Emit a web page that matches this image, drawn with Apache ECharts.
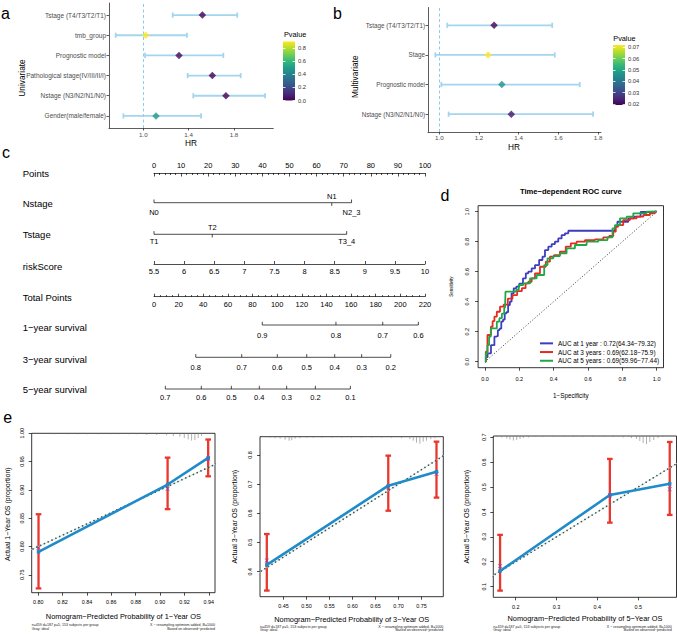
<!DOCTYPE html>
<html><head><meta charset="utf-8">
<script src="https://cdn.jsdelivr.net/npm/echarts@6/dist/echarts.min.js"></script>
<style>html,body{margin:0;padding:0;background:#fff}#c{width:677px;height:634px}</style>
</head><body><div id="c"></div>
<script>
// ================= DATA =================
// Panel a – univariate Cox (top to bottom)
const uniVars  = ['Tstage (T4/T3/T2/T1)','tmb_group','Prognostic model','Pathological stage(IV/III/II/I)','Nstage (N3/N2/N1/N0)','Gender(male/female)'];
const uniHR    = [1.521, 1.021, 1.315, 1.609, 1.729, 1.112];
const uniLow   = [1.259, 0.756, 1.015, 1.391, 1.441, 0.824];
const uniHigh  = [1.829, 1.385, 1.706, 1.859, 2.074, 1.509];
const uniP     = [0.001, 0.895, 0.02, 0.0003, 0.0002, 0.48];
const uniTicks = [1.0, 1.4, 1.8];
const uniPTicks = [0, 0.2, 0.4, 0.6, 0.8];
// Panel b – multivariate Cox (top to bottom)
const multiVars = ['Tstage (T4/T3/T2/T1)','Stage','Prognostic model','Nstage (N3/N2/N1/N0)'];
const multiHR   = [1.276, 1.246, 1.315, 1.363];
const multiLow  = [1.040, 0.980, 1.010, 1.047];
const multiHigh = [1.569, 1.582, 1.708, 1.775];
const multiP    = [0.0191, 0.072, 0.046, 0.022];
const multiTicks = [1.0, 1.2, 1.4, 1.6, 1.8];
const multiPTicks = [0.02, 0.03, 0.04, 0.05, 0.06, 0.07];
// Panel c – nomogram
const nstageLevels = ['N0','N1','N2_3'];
const nstagePoints = [0, 65.6, 72.9];
const tstageLevels = ['T1','T2','T3_4'];
const tstagePoints = [0, 21.5, 71.1];
const surv1Labels = ['0.9','0.8','0.7','0.6'];
const surv1Total  = [87.9, 147.7, 185.7, 214.6];
const surv3Labels = ['0.8','0.7','0.6','0.5','0.4','0.3','0.2'];
const surv3Total  = [33.9, 71.2, 100.1, 124.0, 146.7, 168.6, 192.2];
const surv5Labels = ['0.7','0.6','0.5','0.4','0.3','0.2','0.1'];
const surv5Total  = [9.2, 38.4, 62.8, 85.5, 107.7, 131.0, 159.4];
// Panel d – time-dependent ROC
const rocNames = ['AUC at 1 year : 0.72(64.34\u221279.32)','AUC at 3 years : 0.69(62.18\u221275.9)','AUC at 5 years : 0.69(59.96\u221277.44)'];
const roc1X = [0,0.01,0.02,0.03,0.04,0.05,0.06,0.07,0.08,0.09,0.10,0.11,0.12,0.13,0.14,0.15,0.16,0.175,0.19,0.21,0.233,0.243,0.262,0.282,0.301,0.33,0.34,0.359,0.379,0.398,0.417,0.437,0.456,0.476,0.495,0.757,0.757,0.786,0.835,0.835,0.90,0.913,1];
const roc1Y = [0,0.03,0.056,0.056,0.11,0.11,0.167,0.17,0.211,0.22,0.267,0.28,0.322,0.33,0.378,0.40,0.456,0.489,0.50,0.52,0.556,0.589,0.60,0.622,0.644,0.678,0.70,0.744,0.767,0.784,0.80,0.822,0.844,0.856,0.873,0.873,0.90,0.933,0.933,0.956,0.967,0.998,1];
const roc3X = [0,0.01,0.019,0.03,0.039,0.05,0.06,0.078,0.097,0.12,0.146,0.175,0.2,0.23,0.243,0.262,0.282,0.301,0.34,0.369,0.388,0.417,0.456,0.485,0.515,0.553,0.612,0.67,0.709,0.738,0.757,0.767,0.786,0.825,0.864,0.903,0.942,0.98,1];
const roc3Y = [0,0.067,0.178,0.178,0.233,0.27,0.30,0.333,0.367,0.38,0.42,0.444,0.47,0.49,0.522,0.533,0.556,0.589,0.633,0.667,0.70,0.711,0.733,0.767,0.789,0.80,0.811,0.816,0.829,0.838,0.867,0.90,0.911,0.944,0.956,0.967,0.978,0.989,1];
const roc5X = [0,0.01,0.019,0.029,0.039,0.06,0.078,0.09,0.107,0.117,0.122,0.175,0.19,0.204,0.243,0.282,0.32,0.34,0.35,0.379,0.417,0.456,0.495,0.553,0.631,0.689,0.738,0.748,0.767,0.806,0.845,0.883,1];
const roc5Y = [0,0.056,0.11,0.167,0.222,0.222,0.267,0.29,0.32,0.36,0.467,0.467,0.48,0.511,0.522,0.556,0.578,0.578,0.644,0.689,0.704,0.722,0.756,0.778,0.80,0.811,0.829,0.889,0.911,0.956,0.967,0.989,1];
const rocTicks = [0, 0.2, 0.4, 0.6, 0.8, 1.0];
// Panel e – calibration curves
const cal1Pred = [0.8003, 0.9062, 0.9395], cal1Obs = [0.7905, 0.9095, 0.9565], cal1Low = [0.726, 0.866, 0.924], cal1High = [0.857, 0.957, 0.989], cal1Corr = [0.798, 0.902, 0.955];
const cal3Pred = [0.4138, 0.6778, 0.7826], cal3Obs = [0.4229, 0.695, 0.743], cal3Low = [0.335, 0.609, 0.654], cal3High = [0.529, 0.798, 0.846], cal3Corr = [0.438, 0.689, 0.735];
const cal5Pred = [0.1617, 0.4306, 0.5773], cal5Obs = [0.163, 0.468, 0.513], cal5Low = [0.084, 0.357, 0.388], cal5High = [0.308, 0.613, 0.681], cal5Corr = [0.183, 0.466, 0.491];
const cal1XTicks = [0.80,0.82,0.84,0.86,0.88,0.90,0.92,0.94], cal1YTicks = [0.75,0.80,0.85,0.90,0.95,1.00];
const cal3XTicks = [0.45,0.50,0.55,0.60,0.65,0.70,0.75], cal3YTicks = [0.4,0.5,0.6,0.7,0.8];
const cal5XTicks = [0.2,0.3,0.4,0.5], cal5YTicks = [0.1,0.2,0.3,0.4,0.5,0.6,0.7];
const rug1X = [0.8128,0.8237,0.8324,0.8406,0.8496,0.8591,0.8659,0.8741,0.8809,0.8891,0.8973,0.9054,0.9109,0.9163,0.9199,0.9231,0.9259,0.9286,0.9313,0.934];
const rug1N = [1,1,1,1,1,1,1,1,1,1.7,1.7,2,2.7,3.3,4.7,6,7.3,6.7,4.7,2.7];
const rug3X = [0.4211,0.4319,0.4428,0.4536,0.4623,0.4681,0.4753,0.4862,0.5006,0.5151,0.5332,0.5548,0.5765,0.5982,0.6199,0.6416,0.6633,0.6850,0.7067,0.7248,0.7320,0.7392,0.7465,0.7537,0.7609,0.7703,0.7790];
const rug3N = [1,1.5,2,3,4,3.5,2,1.5,1,1,1,1,1,1,1,1,1,1,1.5,2.5,4,6,7,5,4,2.5,1.5];
const rug5X = [0.1535,0.1658,0.1780,0.1861,0.1943,0.2024,0.2106,0.2187,0.2310,0.2473,0.2676,0.2921,0.3165,0.3410,0.3654,0.3899,0.4143,0.4388,0.4632,0.4836,0.4958,0.5040,0.5122,0.5203,0.5285,0.5382,0.5488,0.5611];
const rug5N = [1,1.5,2.5,3.5,4.5,4,3,2,1.5,1,1,1,1,1,1,1,1,1,1.5,2,3,5,7,8,6,4,2,1];

// ================= BUILD =================
const FONT = '"Liberation Sans", Arial, Helvetica, sans-serif';
const viridis = ['#440154','#482878','#3e4989','#31688e','#26828e','#1f9e89','#35b779','#6ece58','#b5de2b','#fde725'];
const grids = [], xAxes = [], yAxes = [], series = [], gfx = [], vmaps = [];
function addGrid(g, xa, ya) {
  const gi = grids.length; grids.push(g);
  const xi = xAxes.length; xAxes.push(Object.assign({gridIndex: gi}, xa));
  const yi = yAxes.length; yAxes.push(Object.assign({gridIndex: gi}, ya));
  return {g: gi, x: xi, y: yi};
}
const hidden = (min, max) => ({type: 'value', show: false, min, max, splitLine: {show: false}});
function valAxis(o) {
  return {
    type: 'value', min: o.min, max: o.max, position: o.position,
    axisLine: {show: o.line !== false, onZero: false, lineStyle: {color: o.lineColor || '#000', width: o.lw || 0.8}},
    axisTick: {show: true, inside: !!o.inside, length: o.tickLen || 3, customValues: o.ticks,
               lineStyle: {color: o.tickColor || o.lineColor || '#000', width: o.lw || 0.8}},
    axisLabel: {show: o.labels !== false, customValues: o.ticks, formatter: o.fmt, fontSize: o.fs || 6, color: o.labelColor || '#000',
                margin: o.margin == null ? 4 : o.margin, rotate: o.rotate || 0, fontFamily: FONT, lineHeight: o.fs || 6},
    splitLine: {show: false}, z: o.z
  };
}
function txt(x, y, text, size, o = {}) {
  return {type: 'text', x, y, rotation: o.rot || 0, z: 100, silent: true,
    style: {text, fontSize: size, fontFamily: FONT, fill: o.color || '#000', align: o.align || 'center',
            verticalAlign: 'middle', fontWeight: o.bold ? 'bold' : 'normal'}};
}
function hErrSeries(ax, data, color, lw, cap) {
  series.push({type: 'custom', xAxisIndex: ax.x, yAxisIndex: ax.y, silent: true, data,
    renderItem: (p, api) => {
      const y = api.value(2), a = api.coord([api.value(0), y]), b = api.coord([api.value(1), y]);
      const st = {stroke: color, lineWidth: lw};
      return {type: 'group', children: [
        {type: 'line', shape: {x1: a[0], y1: a[1], x2: b[0], y2: b[1]}, style: st},
        {type: 'line', shape: {x1: a[0], y1: a[1] - cap, x2: a[0], y2: a[1] + cap}, style: st},
        {type: 'line', shape: {x1: b[0], y1: b[1] - cap, x2: b[0], y2: b[1] + cap}, style: st}]};
    }});
}
function vErrSeries(ax, data, color, lw, cap) {
  series.push({type: 'custom', xAxisIndex: ax.x, yAxisIndex: ax.y, silent: true, data, z: 3,
    renderItem: (p, api) => {
      const x = api.value(0), a = api.coord([x, api.value(1)]), b = api.coord([x, api.value(2)]);
      const st = {stroke: color, lineWidth: lw};
      return {type: 'group', children: [
        {type: 'line', shape: {x1: a[0], y1: a[1], x2: b[0], y2: b[1]}, style: st},
        {type: 'line', shape: {x1: a[0] - cap, y1: a[1], x2: a[0] + cap, y2: a[1]}, style: st},
        {type: 'line', shape: {x1: b[0] - cap, y1: b[1], x2: b[0] + cap, y2: b[1]}, style: st}]};
    }});
}

// ---------- Forest plots ----------
function forest(box, vars, hr, lo, hi, pv, xmin, xmax, ticks, fs, xMargin, pmin, pmax, cbBox, pticks, pfmt) {
  const n = vars.length;
  const ax = addGrid(box,
    valAxis({min: xmin, max: xmax, ticks, fmt: v => v.toFixed(1), fs: 6.2, labelColor: '#4d4d4d', lineColor: '#333', tickLen: 2.5, margin: xMargin}),
    valAxis({min: 0.4, max: n + 0.6, ticks: vars.map((_, i) => i + 1), fmt: v => vars[n - Math.round(v)], fs, labelColor: '#4d4d4d', lineColor: '#333', tickLen: 2.5, margin: 3}));
  hErrSeries(ax, lo.map((l, i) => [l, hi[i], n - i]), '#a4d5ef', 1.8, 2.6);
  const si = series.length;
  series.push({type: 'scatter', xAxisIndex: ax.x, yAxisIndex: ax.y, symbol: 'diamond', symbolSize: 7.5, silent: true, z: 5,
    data: hr.map((h, i) => [h, n - i, pv[i]]),
    markLine: {silent: true, symbol: 'none', label: {show: false}, data: [{xAxis: 1}],
      lineStyle: {color: '#8fcbea', type: [3, 2.5], width: 1}}});
  vmaps.push({type: 'continuous', show: false, seriesIndex: si, dimension: 2, min: pmin, max: pmax, inRange: {color: viridis}});
  // colour bar
  const cb = addGrid(cbBox, hidden(0, 1),
    valAxis({min: pmin, max: pmax, position: 'right', line: false, inside: true, tickLen: 2.5, tickColor: '#fff', lineColor: '#fff', ticks: pticks, fmt: pfmt, fs: 5.8, labelColor: '#333', margin: 3, z: 10}));
  yAxes.push(Object.assign({gridIndex: cb.g}, valAxis({min: pmin, max: pmax, position: 'left', line: false, inside: true, tickLen: 2.5, tickColor: '#fff', lineColor: '#fff', ticks: pticks, labels: false, z: 10})));
  series.push({type: 'custom', xAxisIndex: cb.x, yAxisIndex: cb.y, silent: true, data: [[0]],
    renderItem: (p, api) => {
      const t = api.coord([0, pmax]), b = api.coord([1, pmin]);
      return {type: 'rect', shape: {x: t[0], y: t[1], width: b[0] - t[0], height: b[1] - t[1]},
        style: {fill: {type: 'linear', x: 0, y: 0, x2: 0, y2: 1, colorStops: viridis.slice().reverse().map((c, i) => ({offset: i / (viridis.length - 1), color: c}))}}};
    }});
}
forest({left: 109, top: 3, width: 164.3, height: 125}, uniVars, uniHR, uniLow, uniHigh, uniP, 0.697, 2.147, uniTicks, 6.5, 3.2,
       0, 0.895, {left: 283, top: 41.5, width: 12, height: 59}, uniPTicks, v => v.toFixed(1));
forest({left: 428, top: 7.5, width: 173, height: 124.5}, multiVars, multiHR, multiLow, multiHigh, multiP, 0.943, 1.815, multiTicks, 6.3, 2.2,
       0.0191, 0.0720, {left: 613, top: 45, width: 12, height: 60}, multiPTicks, v => v.toFixed(2));

// ---------- Nomogram ----------
const NL = 154, NW = 271;
addGrid({left: NL, top: 173, width: NW, height: 1},
  Object.assign(valAxis({min: 0, max: 100, position: 'top', inside: true, tickLen: 3.5, fs: 7.5, margin: 4, lw: 0.7}),
    {interval: 10, minorTick: {show: true, splitNumber: 5, length: 2, lineStyle: {color: '#000', width: 0.7}}, minorSplitLine: {show: false}}),
  hidden(0, 1));
addGrid({left: NL, top: 263, width: NW, height: 1},
  Object.assign(valAxis({min: 5.5, max: 10, position: 'bottom', inside: true, tickLen: 3, fs: 7.5, margin: 4, lw: 0.7}), {interval: 0.5}),
  hidden(0, 1));
addGrid({left: NL, top: 295.7, width: NW, height: 1},
  Object.assign(valAxis({min: 0, max: 220, position: 'bottom', inside: true, tickLen: 3, fs: 7.5, margin: 4, lw: 0.7}),
    {interval: 20, minorTick: {show: true, splitNumber: 4, length: 1.6, lineStyle: {color: '#000', width: 0.7}}, minorSplitLine: {show: false}}),
  hidden(0, 1));
function nomoRow(lineY, axMax, vals, labels, tickDir, labOff) {
  const ax = addGrid({left: NL, top: lineY - 10, width: NW, height: 20}, hidden(0, axMax), hidden(-1, 1));
  series.push({type: 'line', xAxisIndex: ax.x, yAxisIndex: ax.y, silent: true, symbol: 'none',
    data: [[Math.min(...vals), 0], [Math.max(...vals), 0]], lineStyle: {color: '#000', width: 0.7}});
  series.push({type: 'custom', xAxisIndex: ax.x, yAxisIndex: ax.y, silent: true, data: vals.map(v => [v, 0]),
    renderItem: (p, api) => {
      const c = api.coord([api.value(0), 0]), i = p.dataIndex;
      return {type: 'group', children: [
        {type: 'line', shape: {x1: c[0], y1: c[1], x2: c[0], y2: c[1] + tickDir[i] * 3.2}, style: {stroke: '#000', lineWidth: 0.7}},
        {type: 'text', x: c[0], y: c[1] + labOff[i], style: {text: labels[i], fontSize: 7.5, fontFamily: FONT, fill: '#000', align: 'center', verticalAlign: 'middle'}}]};
    }});
}
nomoRow(202.7, 100, nstagePoints, nstageLevels, [-1, 1, -1], [10, -6, 10]);
nomoRow(234.3, 100, tstagePoints, tstageLevels, [-1, 1, -1], [7.4, -7, 7.4]);
nomoRow(325, 220, surv1Total, surv1Labels, surv1Total.map(() => -1), surv1Total.map(() => 10));
nomoRow(357.3, 220, surv3Total, surv3Labels, surv3Total.map(() => -1), surv3Total.map(() => 10));
nomoRow(389, 220, surv5Total, surv5Labels, surv5Total.map(() => -1), surv5Total.map(() => 8.3));

// ---------- ROC ----------
const roc = addGrid({left: 478.1, top: 205.7, width: 185.4, height: 162, show: true, borderColor: '#000', borderWidth: 0.8},
  valAxis({min: -0.04, max: 1.04, line: false, ticks: rocTicks, fmt: v => v.toFixed(1), fs: 5.5, margin: 8.5, tickLen: 3, lw: 0.7}),
  valAxis({min: -0.04, max: 1.04, line: false, ticks: rocTicks, fmt: v => v.toFixed(1), fs: 5.5, margin: 8.5, tickLen: 3, lw: 0.7, rotate: 90}));
series.push({type: 'line', xAxisIndex: roc.x, yAxisIndex: roc.y, silent: true, symbol: 'none', data: [[0, 0], [1, 1]],
  lineStyle: {color: '#000', width: 0.8, type: [1, 2]}});
[[roc1X, roc1Y, '#3d3dc0'], [roc3X, roc3Y, '#e8291f'], [roc5X, roc5Y, '#1fa846']].forEach((r, k) => {
  series.push({type: 'line', name: rocNames[k], xAxisIndex: roc.x, yAxisIndex: roc.y, silent: true, symbol: 'none', step: 'middle',
    data: r[0].map((x, i) => [x, r[1][i]]), color: r[2], lineStyle: {color: r[2], width: 1.8}});
});

// ---------- Calibration ----------
const XMARK = 'path://M0,1 L1,0 L5,4 L9,0 L10,1 L6,5 L10,9 L9,10 L5,6 L1,10 L0,9 L4,5 Z';
function calPanel(box, xr, yr, xt, yt, xf, yf, pred, obs, lo, hi, corr, rx, rn) {
  const ax = addGrid(Object.assign({show: true, borderColor: '#000', borderWidth: 0.8}, box),
    valAxis({min: xr[0], max: xr[1], line: false, ticks: xt, fmt: xf, fs: 5.4, margin: 7, tickLen: 3, lw: 0.7}),
    valAxis({min: yr[0], max: yr[1], line: false, ticks: yt, fmt: yf, fs: 5.4, margin: 7, tickLen: 3, lw: 0.7, rotate: 90}));
  series.push({type: 'line', xAxisIndex: ax.x, yAxisIndex: ax.y, silent: true, symbol: 'none', clip: true, data: [[0, 0], [1, 1]],
    lineStyle: {color: '#d6d6d6', width: 0.7}});
  series.push({type: 'line', xAxisIndex: ax.x, yAxisIndex: ax.y, silent: true, symbol: 'none', clip: true, data: [[0, 0], [1, 1]],
    lineStyle: {color: '#2f5f55', width: 1.7, type: [0.01, 4.2], cap: 'round'}});
  series.push({type: 'custom', xAxisIndex: ax.x, yAxisIndex: ax.y, silent: true, data: rx.map((x, i) => [x, rn[i]]),
    renderItem: (p, api) => {
      const c = api.coord([api.value(0), yr[1]]);
      return {type: 'line', shape: {x1: c[0], y1: c[1], x2: c[0], y2: c[1] + api.value(1)}, style: {stroke: '#7a7a7a', lineWidth: 0.6}};
    }});
  vErrSeries(ax, pred.map((x, i) => [x, lo[i], hi[i]]), '#e8372c', 2.3, 2.8);
  series.push({type: 'line', xAxisIndex: ax.x, yAxisIndex: ax.y, silent: true, symbol: 'rect', symbolSize: 3.5, z: 4,
    data: pred.map((x, i) => [x, obs[i]]), itemStyle: {color: '#1f8bc9'}, lineStyle: {color: '#1f8bc9', width: 2.6}});
  series.push({type: 'scatter', xAxisIndex: ax.x, yAxisIndex: ax.y, silent: true, symbol: XMARK, symbolSize: 4.5, z: 5,
    data: pred.map((x, i) => [x, corr[i]]), itemStyle: {color: '#6f49c4'}});
}
const f2 = v => v.toFixed(2), f1 = v => v.toFixed(1);
calPanel({left: 31.7, top: 433.3, width: 183.3, height: 159.4}, [0.7947, 0.9451], [0.7184, 1.0], cal1XTicks, cal1YTicks, f2, f2,
  cal1Pred, cal1Obs, cal1Low, cal1High, cal1Corr, rug1X, rug1N);
calPanel({left: 260, top: 436.7, width: 183.3, height: 160}, [0.399, 0.7974], [0.314, 0.863], cal3XTicks, cal3YTicks, f2, f1,
  cal3Pred, cal3Obs, cal3Low, cal3High, cal3Corr, rug3X, rug3N);
calPanel({left: 493.3, top: 436, width: 183.2, height: 161.3}, [0.1451, 0.5939], [0.0572, 0.705], cal5XTicks, cal5YTicks, f1, f1,
  cal5Pred, cal5Obs, cal5Low, cal5High, cal5Corr, rug5X, rug5N);

// ---------- Static texts ----------
const R90 = Math.PI / 2;
gfx.push(txt(5.5, 13.5, 'a', 16), txt(337.5, 13, 'b', 16), txt(6, 152, 'c', 16), txt(445, 195, 'd', 16), txt(7.7, 417, 'e', 16));
gfx.push(txt(21.7, 78, 'Univariate', 8.3, {rot: R90}), txt(355, 76.7, 'Multivariate', 8.3, {rot: R90}));
gfx.push(txt(191, 143, 'HR', 8.3), txt(514, 146.8, 'HR', 8.3));
gfx.push(txt(284, 34.3, 'Pvalue', 7.3, {align: 'left'}), txt(613.3, 38.3, 'Pvalue', 7.3, {align: 'left'}));
[['Points', 173], ['Nstage', 203.3], ['Tstage', 234], ['riskScore', 266], ['Total Points', 297.3],
 ['1\u2212year survival', 327.7], ['3\u2212year survival', 359], ['5\u2212year survival', 389]].forEach(r => gfx.push(txt(22.7, r[1], r[0], 9.5, {align: 'left'})));
gfx.push(txt(570.8, 191.3, 'Time\u2212dependent ROC curve', 7.6, {bold: true}));
gfx.push(txt(451.7, 286.7, 'Sensitivity', 4.5, {rot: R90}), txt(570.8, 395, '1\u2212Specificity', 6.3));
[[123.3, 616, 7.3, 514.2, 31.7, 215, 625, '1'], [351.7, 619.3, 234, 516.7, 260, 443.3, 626.7, '3'], [585, 618.3, 466.7, 516.7, 493.3, 671.7, 626.7, '5']].forEach(e => {
  gfx.push(txt(e[0], e[1], 'Nomogram\u2212Predicted Probability of ' + e[7] + '\u2212Year OS', 7.4));
  gfx.push(txt(e[2], e[3], 'Actual ' + e[7] + '\u2212Year OS (proportion)', 7.0, {rot: R90}));
  gfx.push(txt(e[4], e[6], 'n=459 d=187 p=5, 153 subjects per group', 3.6, {align: 'left', color: '#222'}));
  gfx.push(txt(e[4], e[6] + 3.5, 'Gray: ideal', 3.6, {align: 'left', color: '#222'}));
  gfx.push(txt(e[5], e[6], 'X \u2212 resampling optimism added, B=1000', 3.6, {align: 'right', color: '#222'}));
  gfx.push(txt(e[5], e[6] + 3.5, 'Based on observed\u2212predicted', 3.6, {align: 'right', color: '#222'}));
});

const chart = echarts.init(document.getElementById('c'), null, {renderer: 'svg', width: 677, height: 634});
chart.setOption({
  animation: false, backgroundColor: '#fff',
  textStyle: {fontFamily: FONT},
  grid: grids, xAxis: xAxes, yAxis: yAxes, series, visualMap: vmaps,
  legend: {show: true, left: 540, top: 339, orient: 'vertical', padding: 0, itemGap: 0, itemWidth: 13, itemHeight: 2, icon: 'rect',
    selectedMode: false, data: rocNames, textStyle: {fontSize: 6.4, lineHeight: 8.7, color: '#000', fontFamily: FONT}},
  graphic: {elements: gfx}
});
</script></body></html>
